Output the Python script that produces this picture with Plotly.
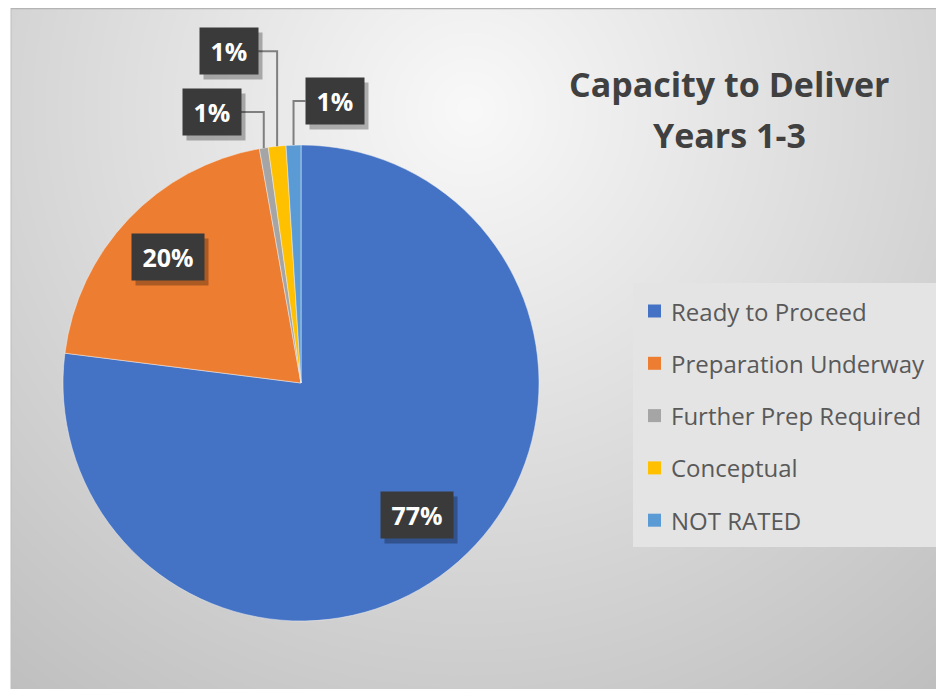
import math
import plotly.graph_objects as go

# ---------------- data ----------------
categories = ["Ready to Proceed", "Preparation Underway", "Further Prep Required",
              "Conceptual", "NOT RATED"]
values = [77.0, 20.2, 0.6, 1.2, 1.0]
colors = ["#4472C4", "#ED7D31", "#A5A5A5", "#FFC000", "#5B9BD5"]
title_lines = ["Capacity to Deliver", "Years 1-3"]

# ---------------- layout constants (reference pixels) ----------------
OFF = 8                     # page body margin
W, H = 944 - OFF, 689 - OFF  # figure size
CX, CY, R = 301, 383, 238
FONT = "Open Sans"


def px(x):
    return (x - OFF) / W


def py(y):
    return 1 - (y - OFF) / H


total = sum(values)
pct_text = [f"{int(v / total * 100 + 0.5)}%" for v in values]

fig = go.Figure()
fig.add_trace(go.Pie(
    labels=categories, values=values, sort=False, direction="clockwise",
    rotation=0, marker=dict(colors=colors, line=dict(width=0.5, color="#f0f0f0")),
    textinfo="none", hoverinfo="label+percent", showlegend=False,
    domain=dict(x=[px(CX - R), px(CX + R)], y=[py(CY + R), py(CY - R)]),
))

shapes = []
annotations = []

# ---------------- background radial gradient ----------------
GX, GY = 470, 110
N = 70
RMAX = 900
for i in range(N):
    r = RMAX * (1 - i / N)
    level = 250 - 0.078 * r
    level = max(185, min(250, level))
    c = int(level)
    shapes.append(dict(type="circle", xref="paper", yref="paper", layer="below",
                       x0=px(GX - r), x1=px(GX + r), y0=py(GY + r), y1=py(GY - r),
                       fillcolor=f"rgb({c},{c},{c})", line=dict(width=0)))
# white left border + thin top line
shapes.append(dict(type="rect", xref="paper", yref="paper", layer="below",
                   x0=0, x1=px(11), y0=0, y1=1, fillcolor="white", line=dict(width=0)))
shapes.append(dict(type="line", xref="paper", yref="paper", layer="below",
                   x0=px(11), x1=px(11), y0=0, y1=py(8), line=dict(color="#bdbdbd", width=1)))
shapes.append(dict(type="line", xref="paper", yref="paper", layer="below",
                   x0=px(11), x1=1, y0=py(8.5), y1=py(8.5), line=dict(color="#b4b4b4", width=1.5)))

# ---------------- data labels ----------------
def box(xc, yc, text, w):
    annotations.append(dict(xref="paper", yref="paper", x=px(xc + 4), y=py(yc + 5),
                            xanchor="center", yanchor="middle",
                            text="", showarrow=False, width=w, height=46,
                            bgcolor="rgba(0,0,0,0.28)", borderpad=0))
    annotations.append(dict(xref="paper", yref="paper", x=px(xc), y=py(yc),
                            xanchor="center", yanchor="middle",
                            text=f"<b>{text}</b>", showarrow=False, width=w, height=46,
                            bgcolor="#3a3a3a", borderpad=0,
                            font=dict(family=FONT, size=25, color="white")))


cum = 0.0
mids = []
for v in values:
    mids.append((cum + v / 2) / total * 2 * math.pi)
    cum += v

# big slices: inside label boxes (radial position as fraction of radius)
inside = {0: 0.74, 1: 0.77}
for i, frac in inside.items():
    a = mids[i]
    xc = CX + frac * R * math.sin(a)
    yc = CY - frac * R * math.cos(a)
    box(xc, yc, pct_text[i], 72)

# small slices: callouts with elbow leader lines (box offset from anchor)
callouts = {2: (-52, -36), 3: (-48, -95), 4: (41, -44)}
for i, (dx, dy) in callouts.items():
    a = mids[i]
    ax = CX + R * math.sin(a)
    ay = CY - R * math.cos(a)
    bx, by = ax + dx, ay + dy
    edge = bx + 29 if dx < 0 else bx - 29
    shapes.append(dict(type="path", xref="paper", yref="paper",
                       path=f"M {px(ax)} {py(ay)} L {px(ax)} {py(by)} L {px(edge)} {py(by)}",
                       line=dict(color="#7f7f7f", width=2)))
    box(bx, by, pct_text[i], 58)

# ---------------- title ----------------
for k, line in enumerate(title_lines):
    annotations.append(dict(xref="paper", yref="paper", x=px(729), y=py(84 + 51 * k),
                            xanchor="center", yanchor="middle",
                            text=f"<b>{line}</b>", showarrow=False,
                            font=dict(family=FONT, size=34, color="#404040")))

# ---------------- legend (custom) ----------------
LX0, LX1, LY0, LY1 = 633, 942, 283, 547
shapes.append(dict(type="rect", xref="paper", yref="paper", layer="below",
                   x0=px(LX0), x1=px(LX1), y0=py(LY1), y1=py(LY0),
                   fillcolor="#e4e4e4", line=dict(width=0)))
for k, (lab, col) in enumerate(zip(categories, colors)):
    yc = 311 + 52.3 * k
    shapes.append(dict(type="rect", xref="paper", yref="paper",
                       x0=px(648), x1=px(661), y0=py(yc + 6.5), y1=py(yc - 6.5),
                       fillcolor=col, line=dict(width=0)))
    annotations.append(dict(xref="paper", yref="paper", x=px(669), y=py(yc),
                            xanchor="left", yanchor="middle", text=lab, showarrow=False,
                            font=dict(family=FONT, size=24, color="#595959")))

fig.update_layout(
    width=W, height=H, margin=dict(l=0, r=0, t=0, b=0),
    paper_bgcolor="white", plot_bgcolor="white",
    shapes=shapes, annotations=annotations, showlegend=False,
)
fig.write_html("out.html")
